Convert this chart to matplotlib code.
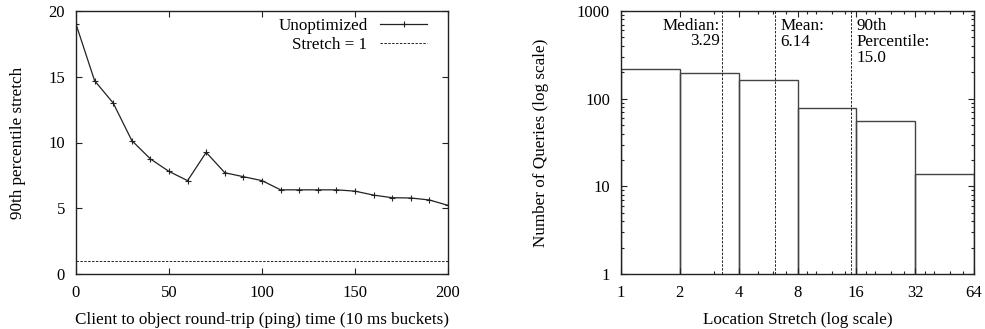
import matplotlib
matplotlib.use("Agg")
import matplotlib.pyplot as plt
import numpy as np
from matplotlib.ticker import FixedLocator, FixedFormatter, NullFormatter, LogLocator

# ---- data: left panel ----
rtt_buckets = [0, 10, 20, 30, 40, 50, 60, 70, 80, 90, 100, 110, 120, 130, 140,
               150, 160, 170, 180, 190, 200]
stretch_90 = [19.0, 14.7, 13.0, 10.15, 8.75, 7.8, 7.1, 9.25, 7.7, 7.4, 7.1, 6.4,
              6.4, 6.4, 6.4, 6.3, 6.0, 5.8, 5.78, 5.63, 5.22]
baseline_stretch = 1.0
left_xticks = [0, 50, 100, 150, 200]
left_yticks = [0, 5, 10, 15, 20]

# ---- data: right panel ----
bin_edges = [1, 2, 4, 8, 16, 32, 64]
query_counts = [216, 198, 162, 78, 55, 14]
stat_values = [3.29, 6.14, 15.0]
stat_labels = ["Median:\n3.29", "Mean:\n6.14", "90th\nPercentile:\n15.0"]
right_xticks = [1, 2, 4, 8, 16, 32, 64]
right_xminor = [3, 5, 6, 7, 9, 10, 12, 14, 18, 20, 24, 28, 36, 40, 48, 56]
right_yticks = [1, 10, 100, 1000]

plt.rcParams['font.family'] = ['Liberation Serif', 'DejaVu Serif']
plt.rcParams['font.size'] = 12
plt.rcParams['mathtext.fontset'] = 'stix'

W, H = 985, 329
fig = plt.figure(figsize=(W / 100, H / 100), dpi=100)

def frac(x0, y0, x1, y1):
    return [x0 / W, 1 - y1 / H, (x1 - x0) / W, (y1 - y0) / H]

ink = '#222222'

def style_ax(ax):
    for s in ax.spines.values():
        s.set_linewidth(1.0)
        s.set_color(ink)
    ax.tick_params(which='both', direction='in', top=True, right=True,
                   color=ink, width=0.8, labelsize=12, labelcolor='black')
    ax.tick_params(which='major', length=4, pad=8)
    ax.tick_params(which='minor', length=2)

# ---------------- left panel ----------------
ax1 = fig.add_axes(frac(76, 11, 448, 274))
ax1.plot(rtt_buckets, stretch_90, color=ink, lw=0.9, marker='+', ms=5,
         mew=0.8, label='Unoptimized')
ax1.axhline(baseline_stretch, color=ink, lw=0.7, ls=(0, (2.5, 1.5)),
            label='Stretch = 1')
ax1.set_xlim(0, 200)
ax1.set_ylim(0, 20)
ax1.set_xticks(left_xticks)
ax1.set_yticks(left_yticks)
style_ax(ax1)
ax1.set_xlabel('Client to object round-trip (ping) time (10 ms buckets)',
               fontsize=12.3, labelpad=8)
ax1.set_ylabel('90th percentile stretch', fontsize=12.3, labelpad=16)
leg = ax1.legend(loc='upper right', markerfirst=False, frameon=False,
                 handlelength=2.75, handletextpad=0.73, labelspacing=0.15,
                 borderaxespad=0, borderpad=0, fontsize=12.3,
                 bbox_to_anchor=((427 - 76) / 372, (274 - 18) / 263))
for t in leg.get_texts():
    t.set_ha('right')
leg._legend_box.align = 'right'

# ---------------- right panel ----------------
ax2 = fig.add_axes(frac(621, 11, 974, 274))
edges = np.array(bin_edges, dtype=float)
ax2.bar(edges[:-1], query_counts, width=np.diff(edges), align='edge',
        fill=False, edgecolor='#444444', lw=1.0)
ax2.set_xscale('log', base=2)
ax2.set_yscale('log')
ax2.set_xlim(1, 64)
ax2.set_ylim(1, 1000)
ax2.xaxis.set_major_locator(FixedLocator(right_xticks))
ax2.xaxis.set_major_formatter(FixedFormatter([str(v) for v in right_xticks]))
ax2.xaxis.set_minor_locator(FixedLocator(right_xminor))
ax2.xaxis.set_minor_formatter(NullFormatter())
ax2.yaxis.set_major_locator(FixedLocator(right_yticks))
ax2.yaxis.set_major_formatter(FixedFormatter([str(v) for v in right_yticks]))
ax2.yaxis.set_minor_locator(LogLocator(base=10, subs=np.arange(2, 10)))
ax2.yaxis.set_minor_formatter(NullFormatter())
style_ax(ax2)

for i, (v, lab) in enumerate(zip(stat_values, stat_labels)):
    ax2.axvline(v, color=ink, lw=0.7, ls=(0, (2.5, 1.5)))
    if i == 0:
        ax2.annotate(lab, xy=(v, 1), xycoords=('data', 'axes fraction'),
                     xytext=(-1.5, -5), textcoords='offset points',
                     ha='right', va='top', multialignment='right',
                     linespacing=0.95, fontsize=12.3)
    else:
        ax2.annotate(lab, xy=(v, 1), xycoords=('data', 'axes fraction'),
                     xytext=(4, -5), textcoords='offset points',
                     ha='left', va='top', multialignment='left',
                     linespacing=1.0, fontsize=12.3)

ax2.set_xlabel('Location Stretch (log scale)', fontsize=12.3, labelpad=8)
ax2.set_ylabel('Number of Queries (log scale)', fontsize=12.3, labelpad=20)

fig.savefig('out.png', dpi=100)
